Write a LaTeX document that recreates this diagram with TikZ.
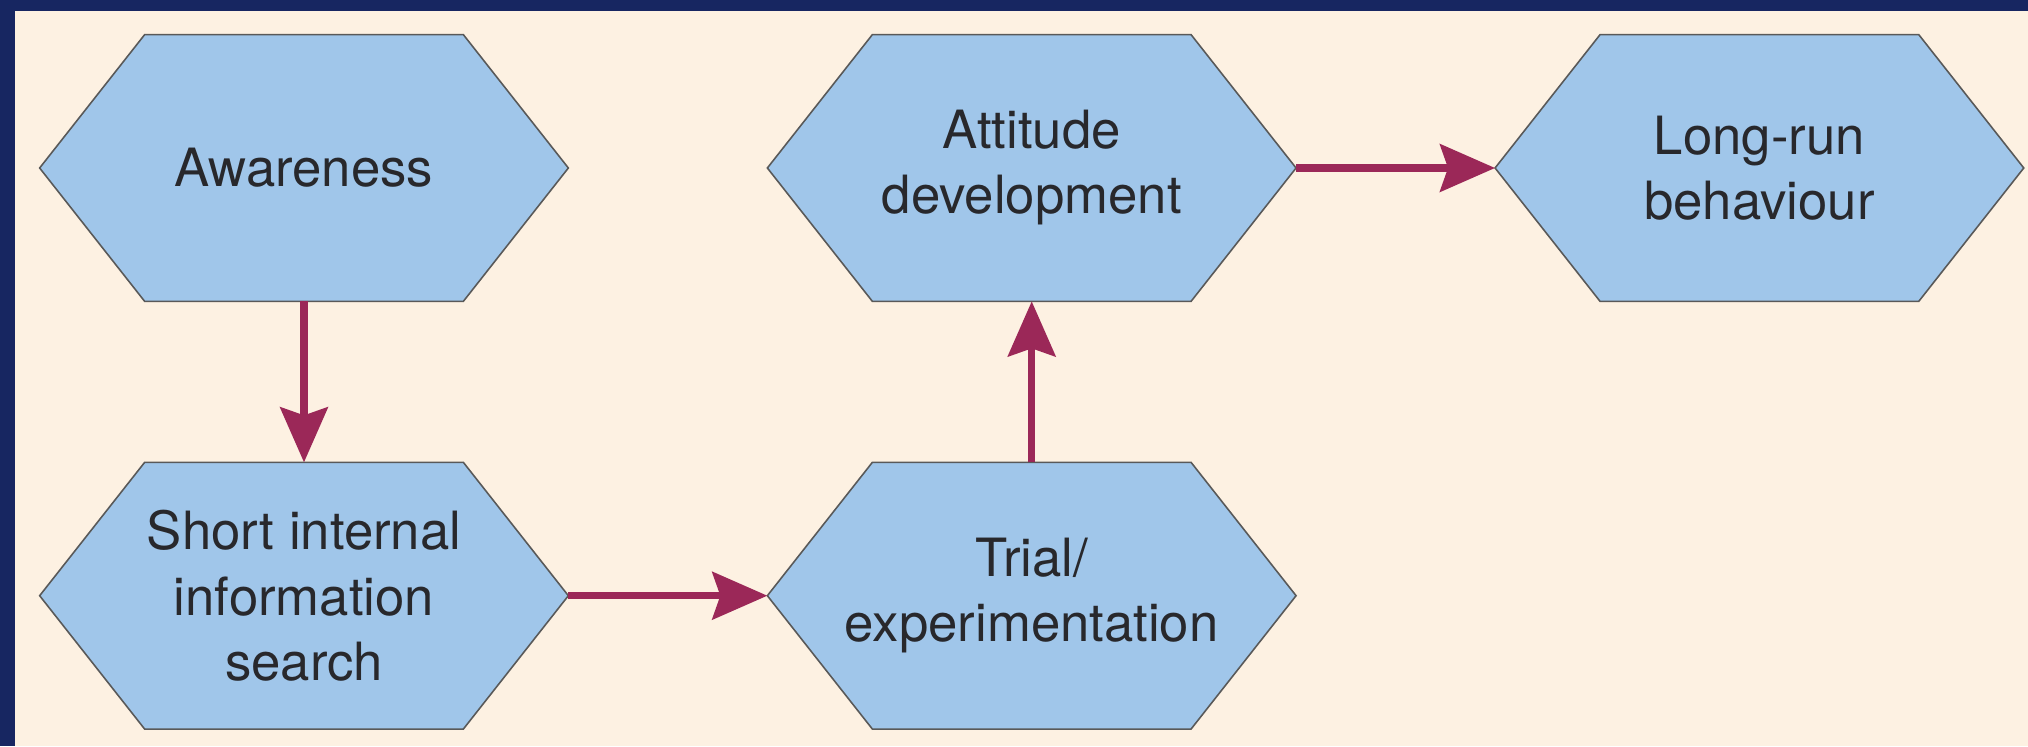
\documentclass[tikz,border=0pt]{standalone}
\usepackage{fontspec}
\setmainfont{TeX Gyre Heros}
\usepackage{tikz}
\usetikzlibrary{arrows.meta}
\usetikzlibrary{positioning}

\definecolor{framenavy}{RGB}{23,38,97}
\definecolor{papercream}{RGB}{253,241,226}
\definecolor{hexblue}{RGB}{160,198,234}
\definecolor{linkred}{RGB}{155,40,88}
\definecolor{textgray}{RGB}{40,40,44}

\pgfdeclarelayer{paper}
\pgfdeclarelayer{background}
\pgfsetlayers{paper,background,main}

\tikzset{
  stage/.style={rectangle, minimum width=10.56cm, minimum height=5.32cm,
    inner sep=0pt, text=textgray, align=center,
    font=\fontsize{30}{37}\selectfont},
  hexagon/.style={draw=black!65, line width=0.9pt, fill=hexblue, line join=miter},
  link/.style={draw=linkred, line width=4pt,
    -{Stealth[length=1.1cm, width=0.95cm, inset=0.16cm]}}
}

\begin{document}
\begin{tikzpicture}[node distance=3.22cm and 3.98cm]
    % frame and paper
    \begin{pgfonlayer}{paper}
      \fill[framenavy] (0,0) rectangle (40.56,14.92);
      \fill[papercream] (0.3,0) rectangle (40.56,14.7);
    \end{pgfonlayer}
    \useasboundingbox (0,0) rectangle (40.56,14.92);

    \node[stage] (aware) at (6.08,11.56) {Awareness};
    \node[stage, below=of aware] (search) {Short internal\\information\\search};
    \node[stage, right=of search] (trial) {Trial/\\experimentation};
    \node[stage, above=of trial] (attitude) {Attitude\\development};
    \node[stage, right=of attitude] (longrun) {Long-run\\behaviour};

    % hexagon outlines behind the labels
    \begin{pgfonlayer}{background}
      \foreach \n in {aware,search,trial,attitude,longrun}
        \draw[hexagon] (\n.west) -- ([xshift=2.1cm]\n.north west)
          -- ([xshift=-2.1cm]\n.north east) -- (\n.east)
          -- ([xshift=-2.1cm]\n.south east) -- ([xshift=2.1cm]\n.south west) -- cycle;
    \end{pgfonlayer}

    \draw[link] (aware) -- (search);
    \draw[link] (search) -- (trial);
    \draw[link] (trial) -- (attitude);
    \draw[link] (attitude) -- (longrun);
  \end{tikzpicture}
\end{document}
